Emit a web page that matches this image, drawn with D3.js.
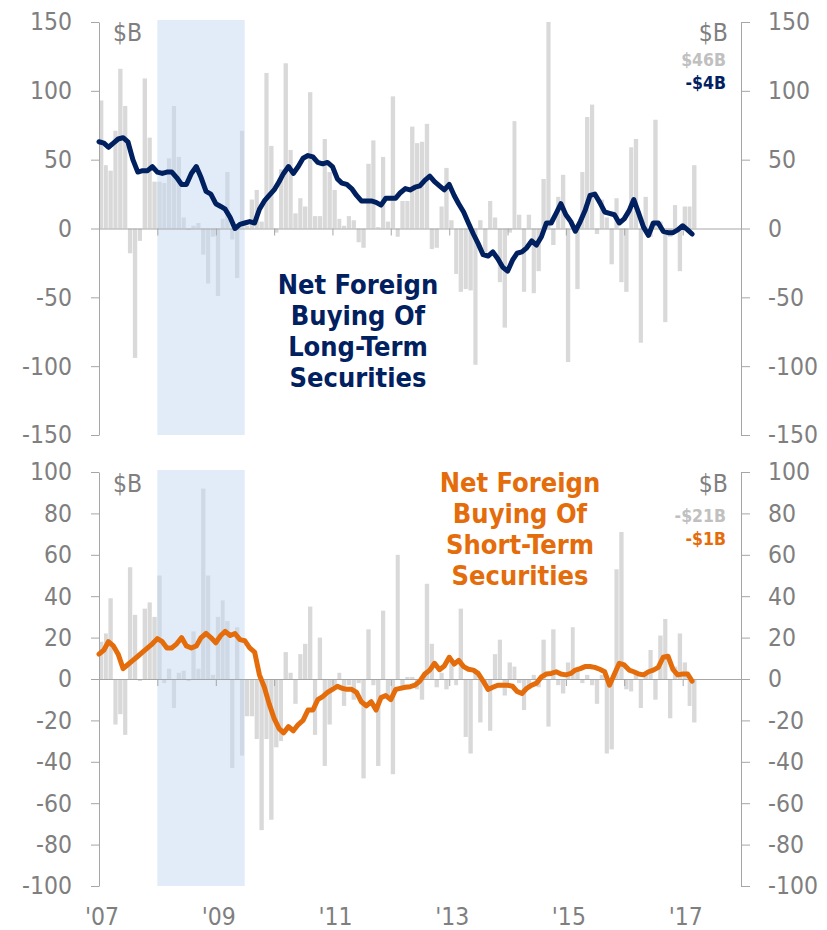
<!DOCTYPE html>
<html>
<head>
<meta charset="utf-8">
<script src="https://cdn.jsdelivr.net/npm/d3@7"></script>
<style>
  body { margin: 0; background: #fff; }
  text { font-family: "DejaVu Sans Condensed", "DejaVu Sans", sans-serif; }
</style>
</head>
<body>
<svg id="chart"></svg>
<script>
var width = 827;
var height = 930;
var left = 99;
var right = 741;

// monthly values, Jan 2007 .. Mar 2017 ($B)
var longBars = [
  93, 46, 42, 71, 116, 89, -18, -94, -9, 109,
  66, 34, 34, 33, 51, 89, 52, 8, -1, 2,
  4, -19, -40, -6, -49, 7, 41, -8, -36, 71,
  2, 21, 28, 5, 113, 60, -3, 43, 120, 57,
  11, 22, 16, 99, 9, 9, 65, 41, 28, 7,
  2, 9, 6, -10, -14, 47, 64, 1, 52, 5,
  96, -6, 20, 20, 74, 62, 63, 76, -15, -14,
  16, 44, 6, -33, -46, -44, -45, -99, 6, -21,
  20, 8, -39, -72, -3, 78, 10, -46, 10, -47,
  -31, 36, 150, -12, 23, 39, -97, 3, -44, 41,
  81, 90, -4, 21, 8, -26, 22, -39, -46, 59,
  65, -83, 23, -6, 79, 5, -68, -6, 17, -31,
  16, 16, 46
];
var longLine = [
  63, 62, 59, 62, 65, 66, 63, 50, 41, 42,
  42, 45, 41, 40, 41, 41, 37, 32, 32, 40,
  45, 37, 27, 25, 18, 16, 14, 8, 0, 3,
  4, 5, 4, 14, 20, 24, 28, 34, 40, 45,
  40, 45, 51, 53, 52, 48, 47, 48, 45, 36,
  33, 32, 29, 24, 20, 20, 20, 19, 17, 22,
  22, 22, 26, 29, 28, 30, 31, 35, 38, 34,
  31, 28, 32, 24, 18, 12, 4, -4, -11, -19,
  -20, -17, -22, -28, -31, -23, -18, -17, -14, -9,
  -12, -6, 4, 4, 11, 18, 10, 5, -2, 5,
  13, 24, 25, 19, 12, 11, 10, 4, 7, 13,
  21, 11, 1, -5, 4, 4, -2, -3, -3, -1,
  2, -1, -4
];
var shortBars = [
  18, 22, 39, -22, -17, -27, 54, 31, -1, 34,
  37, 30, 50, -2, 5, -14, 3, 4, -1, 23,
  5, 92, 50, 2, 30, 38, 28, -43, 25, -37,
  -18, -18, -29, -73, -29, -68, -33, -30, 13, 3,
  -12, 12, 17, 35, -27, 20, -42, -22, -3, 3,
  -13, -3, -10, -2, -48, 24, -3, -42, 33, -8,
  -46, 60, -4, 1, 1, -5, -10, 46, 17, -4,
  3, -5, 8, -3, 34, -28, -36, 4, -21, -3,
  -25, 12, 19, -8, 8, 6, -2, -15, -3, 2,
  -4, 19, -23, 24, -3, -7, 8, 25, 4, -2,
  2, -3, -12, 2, -36, -34, 53, 71, -5, -6,
  4, -14, 3, 14, -10, 21, 29, -19, 6, 22,
  8, -13, -21
];
var shortLine = [
  12, 14, 18, 16, 12, 5, 7, 9, 11, 13,
  15, 17, 19.5, 18, 15, 15, 17, 20, 16, 15,
  16, 20, 22, 20, 17.5, 21, 23, 21, 22, 19,
  18.5, 15, 13, 2, -4, -12, -19, -24, -26, -23,
  -25, -22, -20, -15, -15, -10, -8.5, -6.5, -5, -3.5,
  -4.5, -5, -5, -6.5, -11, -13, -11, -15, -9, -8,
  -10, -5, -4.5, -4, -3.7, -3, -1, 2.4, 4.3, 7.6,
  4.5, 6.3, 10.5, 7.2, 9, 6, 4.7, 4.3, 2.7, -1,
  -5, -4, -3, -3, -3, -3.5, -6, -7, -4.5, -3,
  -2, 1, 2.4, 2.7, 3.5, 2.4, 2, 2.7, 4.3, 5,
  6, 6, 5.6, 4.7, 3.5, -3, 2.4, 7.6, 6.8, 4.3,
  3.5, 2.4, 2, 3.5, 4.3, 5.6, 10.5, 11, 4.7, 2,
  2.4, 2.4, -1
];

var longTicks = [150, 100, 50, 0, -50, -100, -150];
var shortTicks = [100, 80, 60, 40, 20, 0, -20, -40, -60, -80, -100];
var yearLabels = ["'07", "'09", "'11", "'13", "'15", "'17"];
var longTitle = ["Net Foreign", "Buying Of", "Long-Term", "Securities"];
var shortTitle = ["Net Foreign", "Buying Of", "Short-Term", "Securities"];
var longLatest = ["$46B", "-$4B"];
var shortLatest = ["-$21B", "-$1B"];

var months = d3.timeMonth.range(new Date(2007, 0, 1), new Date(2017, 3, 1));

var xScale = d3.scaleTime()
               .domain([new Date(2007, 0, 1), new Date(2018, 0, 1)])
               .range([left, right]);

var svg = d3.select("#chart")
            .attr("width", width)
            .attr("height", height);

drawPanel({
  bars: longBars, line: longLine, ticks: longTicks,
  top: 22, bottom: 435, color: "#002060",
  title: longTitle, titleX: 358, titleY: 294,
  latest: longLatest, unitY: 41, latestY: 66
});

drawPanel({
  bars: shortBars, line: shortLine, ticks: shortTicks,
  top: 472, bottom: 886, color: "#e46c0a",
  title: shortTitle, titleX: 520, titleY: 492,
  latest: shortLatest, unitY: 492, latestY: 522
});

svg.append("g")
  .selectAll("text")
  .data(yearLabels)
  .enter()
  .append("text")
    .attr("x", (d, i) => xScale(new Date(2007 + 2 * i, 0, 1)) + 3)
    .attr("y", 925)
    .attr("text-anchor", "middle")
    .attr("fill", "#7f7f7f")
    .style("font-size", "24.5px")
    .text(d => d);

function drawPanel(p) {
  var yScale = d3.scaleLinear()
                 .domain([p.ticks[p.ticks.length - 1], p.ticks[0]])
                 .range([p.bottom, p.top]);
  var y0 = yScale(0);
  var g = svg.append("g");

  g.selectAll(".bar")
    .data(p.bars)
    .enter()
    .append("rect")
      .attr("x", (d, i) => xScale(months[i]))
      .attr("width", (d, i) => xScale(d3.timeMonth.offset(months[i], 1)) - xScale(months[i]) - 0.6)
      .attr("y", d => Math.min(yScale(d), y0))
      .attr("height", d => Math.abs(yScale(d) - y0))
      .attr("fill", "#d9d9d9");

  // recession shading
  g.append("rect")
    .attr("x", xScale(new Date(2008, 0, 1)))
    .attr("width", xScale(new Date(2009, 6, 1)) - xScale(new Date(2008, 0, 1)))
    .attr("y", p.top - 2)
    .attr("height", p.bottom - p.top + 2)
    .attr("fill", "#c5d9f1")
    .attr("opacity", 0.5);

  var zeroAxis = d3.axisBottom(xScale)
                   .ticks(d3.timeYear.every(1))
                   .tickSize(7)
                   .tickSizeOuter(0)
                   .tickFormat("");
  g.append("g")
    .attr("class", "axis")
    .attr("transform", "translate(0," + y0 + ")")
    .call(zeroAxis);

  var leftAxis = d3.axisLeft(yScale)
                   .tickValues(p.ticks)
                   .tickSize(8)
                   .tickSizeOuter(0)
                   .tickPadding(19)
                   .tickFormat(d => String(d));
  g.append("g")
    .attr("class", "axis")
    .attr("transform", "translate(" + left + ",0)")
    .call(leftAxis);

  var rightAxis = d3.axisRight(yScale)
                    .tickValues(p.ticks)
                    .tickSize(9)
                    .tickSizeOuter(0)
                    .tickPadding(18)
                    .tickFormat(d => String(d));
  g.append("g")
    .attr("class", "axis")
    .attr("transform", "translate(" + right + ",0)")
    .call(rightAxis);

  g.selectAll(".axis path, .axis line").attr("stroke", "#a6a6a6");
  g.selectAll(".axis text")
    .attr("fill", "#7f7f7f")
    .style("font-size", "24.5px")
    .style("font-family", "'DejaVu Sans Condensed', 'DejaVu Sans', sans-serif");

  var line = d3.line()
               .x((d, i) => xScale(months[i]))
               .y(d => yScale(d));
  g.append("path")
    .datum(p.line)
    .attr("d", line)
    .attr("fill", "none")
    .attr("stroke", p.color)
    .attr("stroke-width", 5)
    .attr("stroke-linejoin", "round")
    .attr("stroke-linecap", "round");

  g.append("text")
    .attr("x", 113).attr("y", p.unitY)
    .attr("fill", "#7f7f7f")
    .style("font-size", "24.5px")
    .text("$B");
  g.append("text")
    .attr("x", 728).attr("y", p.unitY)
    .attr("text-anchor", "end")
    .attr("fill", "#7f7f7f")
    .style("font-size", "24.5px")
    .text("$B");

  g.selectAll(".latest")
    .data(p.latest)
    .enter()
    .append("text")
      .attr("x", 726)
      .attr("y", (d, i) => p.latestY + i * 23)
      .attr("text-anchor", "end")
      .attr("fill", (d, i) => i == 0 ? "#c0c0c0" : p.color)
      .style("font-size", "17.5px")
      .style("font-weight", "bold")
      .text(d => d);

  g.selectAll(".title")
    .data(p.title)
    .enter()
    .append("text")
      .attr("x", p.titleX)
      .attr("y", (d, i) => p.titleY + i * 31)
      .attr("text-anchor", "middle")
      .attr("fill", p.color)
      .style("font-size", "27px")
      .style("font-weight", "bold")
      .text(d => d);
}
</script>
</body>
</html>
